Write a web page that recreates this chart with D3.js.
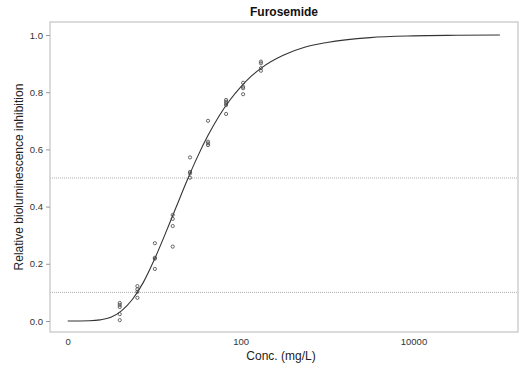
<!DOCTYPE html>
<html>
<head>
<meta charset="utf-8">
<script src="https://cdn.jsdelivr.net/npm/d3@7"></script>
<style>
  body { margin: 0; background: #fff; }
  text { font-family: "Liberation Sans", Arial, Helvetica, sans-serif; }
</style>
</head>
<body>
<div class="chart"></div>
<script>
// observed concentrations (mg/L) and inhibition
const obsConc = [
  4, 4, 4, 4, 4,
  6.4, 6.4, 6.4, 6.4,
  10.2, 10.2, 10.2, 10.2,
  16.4, 16.4, 16.4, 16.4,
  26, 26, 26, 26,
  42, 42, 42, 42,
  68, 68, 68, 68, 68,
  107, 107, 107, 107,
  172, 172, 172, 172
]
const obsResp = [
  0.063, 0.056, 0.049, 0.024, 0.003,
  0.122, 0.111, 0.102, 0.081,
  0.272, 0.221, 0.218, 0.182,
  0.371, 0.357, 0.332, 0.26,
  0.572, 0.521, 0.516, 0.501,
  0.70, 0.627, 0.621, 0.615,
  0.773, 0.767, 0.761, 0.755, 0.724,
  0.833, 0.819, 0.814, 0.793,
  0.907, 0.901, 0.884, 0.875
]

// fitted curve
const curveConc = [1, 1.78, 2.37, 3.16, 4.22, 5.62, 7.5, 10, 13.3, 17.8, 23.7, 31.6, 42.2, 56.2, 75, 100, 133, 178, 316, 562, 1000, 3162, 10000, 31623, 100000]
const curveResp = [0, 0.001, 0.004, 0.013, 0.036, 0.076, 0.135, 0.213, 0.301, 0.395, 0.487, 0.573, 0.65, 0.716, 0.772, 0.818, 0.856, 0.887, 0.93, 0.958, 0.974, 0.991, 0.997, 0.999, 1.0]

const refLines = [0.5, 0.1]
const xTicks = [1, 100, 10000]
const xTickLabels = ['0', '100', '10000']
const yTicks = [0, 0.2, 0.4, 0.6, 0.8, 1.0]

const margin = { top: 22, right: 6, bottom: 41, left: 50 }
const width = 524 - margin.left - margin.right
const height = 373 - margin.top - margin.bottom

const svg = d3
  .select('.chart')
  .append('svg')
  .attr('width', 524)
  .attr('height', 373)

const g = svg
  .append('g')
  .attr('transform', `translate(${margin.left}, ${margin.top})`)

const xScale = d3
  .scaleLog()
  .domain([0.624, 162000])
  .range([0, width])

const yScale = d3
  .scaleLinear()
  .domain([-0.0385, 1.0455])
  .range([height, 0])

// reference lines
g.selectAll('.refLine')
  .data(refLines)
  .enter()
  .append('line')
  .attr('class', 'refLine')
  .attr('x1', 0)
  .attr('x2', width)
  .attr('y1', d => yScale(d))
  .attr('y2', d => yScale(d))
  .attr('stroke', '#999')
  .attr('stroke-width', 0.8)
  .attr('stroke-dasharray', '1 1')

// frame
g.append('rect')
  .attr('x', 0)
  .attr('y', 0)
  .attr('width', width)
  .attr('height', height)
  .attr('fill', 'none')
  .attr('stroke', '#c4c4c4')
  .attr('stroke-width', 1.2)

// y axis
const yAxis = g
  .append('g')
  .call(d3.axisLeft(yScale).tickValues(yTicks).tickFormat(d3.format('.1f')).tickSize(4).tickPadding(3))
yAxis.select('.domain').remove()
yAxis.selectAll('line').attr('stroke', '#999')
yAxis.selectAll('text').attr('fill', '#333').style('font-size', '9.5px')

// x axis
const xAxis = g
  .append('g')
  .attr('transform', `translate(0, ${height})`)
  .call(d3.axisBottom(xScale).tickValues(xTicks).tickFormat((d, i) => xTickLabels[i]).tickSize(0).tickPadding(6))
xAxis.select('.domain').remove()
xAxis.selectAll('text').attr('fill', '#333').style('font-size', '9.5px')

// curve
const curveData = curveConc.map((c, i) => ({ conc: c, resp: curveResp[i] }))
const line = d3
  .line()
  .x(d => xScale(d.conc))
  .y(d => yScale(d.resp))
  .curve(d3.curveMonotoneX)

g.append('path')
  .datum(curveData)
  .attr('fill', 'none')
  .attr('stroke', '#333')
  .attr('stroke-width', 1.1)
  .attr('d', line)

// observations
g.selectAll('.obs')
  .data(obsConc.map((c, i) => ({ conc: c, resp: obsResp[i] })))
  .enter()
  .append('circle')
  .attr('class', 'obs')
  .attr('cx', d => xScale(d.conc))
  .attr('cy', d => yScale(d.resp))
  .attr('r', 1.6)
  .attr('fill', 'none')
  .attr('stroke', '#444')
  .attr('stroke-width', 0.8)

// title and labels
svg.append('text')
  .attr('x', margin.left + width / 2)
  .attr('y', 16)
  .attr('text-anchor', 'middle')
  .style('font-size', '12px')
  .style('font-weight', 'bold')
  .attr('fill', '#111')
  .text('Furosemide')

svg.append('text')
  .attr('x', margin.left + width / 2 - 3)
  .attr('y', 360)
  .attr('text-anchor', 'middle')
  .style('font-size', '12px')
  .attr('fill', '#222')
  .text('Conc. (mg/L)')

svg.append('text')
  .attr('transform', `translate(23, ${margin.top + height / 2}) rotate(-90)`)
  .attr('text-anchor', 'middle')
  .style('font-size', '12px')
  .attr('fill', '#222')
  .text('Relative bioluminescence inhibition')
</script>
</body>
</html>
